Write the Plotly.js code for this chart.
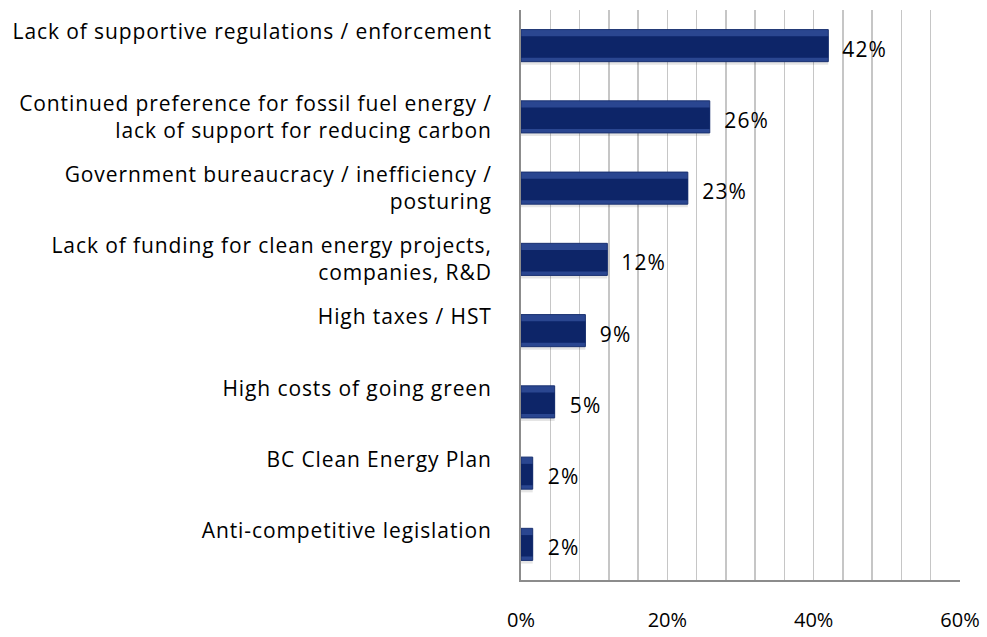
<!DOCTYPE html>
<html>
<head>
<meta charset="utf-8">
<script src="https://cdn.plot.ly/plotly-3.0.1.min.js"></script>
<style>
html,body{margin:0;padding:0;background:#fff;}
#chart{width:987px;height:637px;}
#chart .ytick text{letter-spacing:0.9px;}
#chart .annotation-text-g text{letter-spacing:1.2px;}
</style>
</head>
<body>
<div id="chart"></div>
<script>
var categories = [
  "Lack of supportive regulations / enforcement<br>&nbsp;",
  "Continued preference for fossil fuel energy /<br>lack of support for reducing carbon",
  "Government bureaucracy / inefficiency /<br>posturing",
  "Lack of funding for clean energy projects,<br>companies, R&amp;D",
  "High taxes / HST<br>&nbsp;",
  "High costs of going green<br>&nbsp;",
  "BC Clean Energy Plan<br>&nbsp;",
  "Anti-competitive legislation<br>&nbsp;"
];
var values = [42, 25.8, 22.8, 11.8, 8.8, 4.6, 1.6, 1.6];
var valueLabels = ["42%", "26%", "23%", "12%", "9%", "5%", "2%", "2%"];
var tickVals = [0, 20, 40, 60];
var tickText = ["0%", "20%", "40%", "60%"];

var font = "Open Sans, Liberation Sans, Arial, sans-serif";

var shadow = {
  type: "bar", orientation: "h", x: values, y: categories,
  width: 0.47, offset: -0.2,
  marker: {color: "rgba(0,0,0,0.10)"},
  hoverinfo: "skip", showlegend: false
};
var main = {
  type: "bar", orientation: "h", x: values, y: categories,
  width: 0.45,
  marker: {color: "#2a4690", line: {color: "#1a3170", width: 1}},
  showlegend: false
};
var inner = {
  type: "bar", orientation: "h", x: values, y: categories,
  width: 0.30, offset: -0.13,
  marker: {color: "#0d2568", line: {width: 0}},
  hoverinfo: "skip", showlegend: false
};

var annotations = values.map(function (v, i) {
  return {
    x: v, y: categories[i], xref: "x", yref: "y",
    text: valueLabels[i], showarrow: false,
    xanchor: "left", yanchor: "middle", xshift: 14, yshift: -3,
    font: {family: font, size: 21, color: "#000"}
  };
});

var layout = {
  width: 987, height: 637,
  margin: {l: 521, r: 27, t: 10, b: 57, pad: 0},
  paper_bgcolor: "#fff", plot_bgcolor: "#fff",
  barmode: "overlay",
  bargap: 0.55,
  font: {family: font, size: 21, color: "#000"},
  xaxis: {
    range: [0, 60], tickvals: tickVals, ticktext: tickText,
    showgrid: true, gridcolor: "#c6c6c6", gridwidth: 1.5,
    minor: {dtick: 4, tick0: 0, showgrid: true, gridcolor: "#c6c6c6", gridwidth: 1.5, ticks: ""},
    zeroline: false, showline: true, linecolor: "#8c8c8c", linewidth: 2,
    ticks: "", ticklabelstandoff: 21,
    tickfont: {family: font, size: 20, color: "#000"},
    fixedrange: true
  },
  yaxis: {
    autorange: "reversed", type: "category",
    showgrid: false, zeroline: false,
    showline: true, linecolor: "#8c8c8c", linewidth: 2,
    ticks: "", ticklabelstandoff: 23,
    tickfont: {family: font, size: 21, color: "#000"},
    fixedrange: true
  },
  annotations: annotations
};

Plotly.newPlot("chart", [shadow, main, inner], layout, {staticPlot: true, displayModeBar: false});
</script>
</body>
</html>
